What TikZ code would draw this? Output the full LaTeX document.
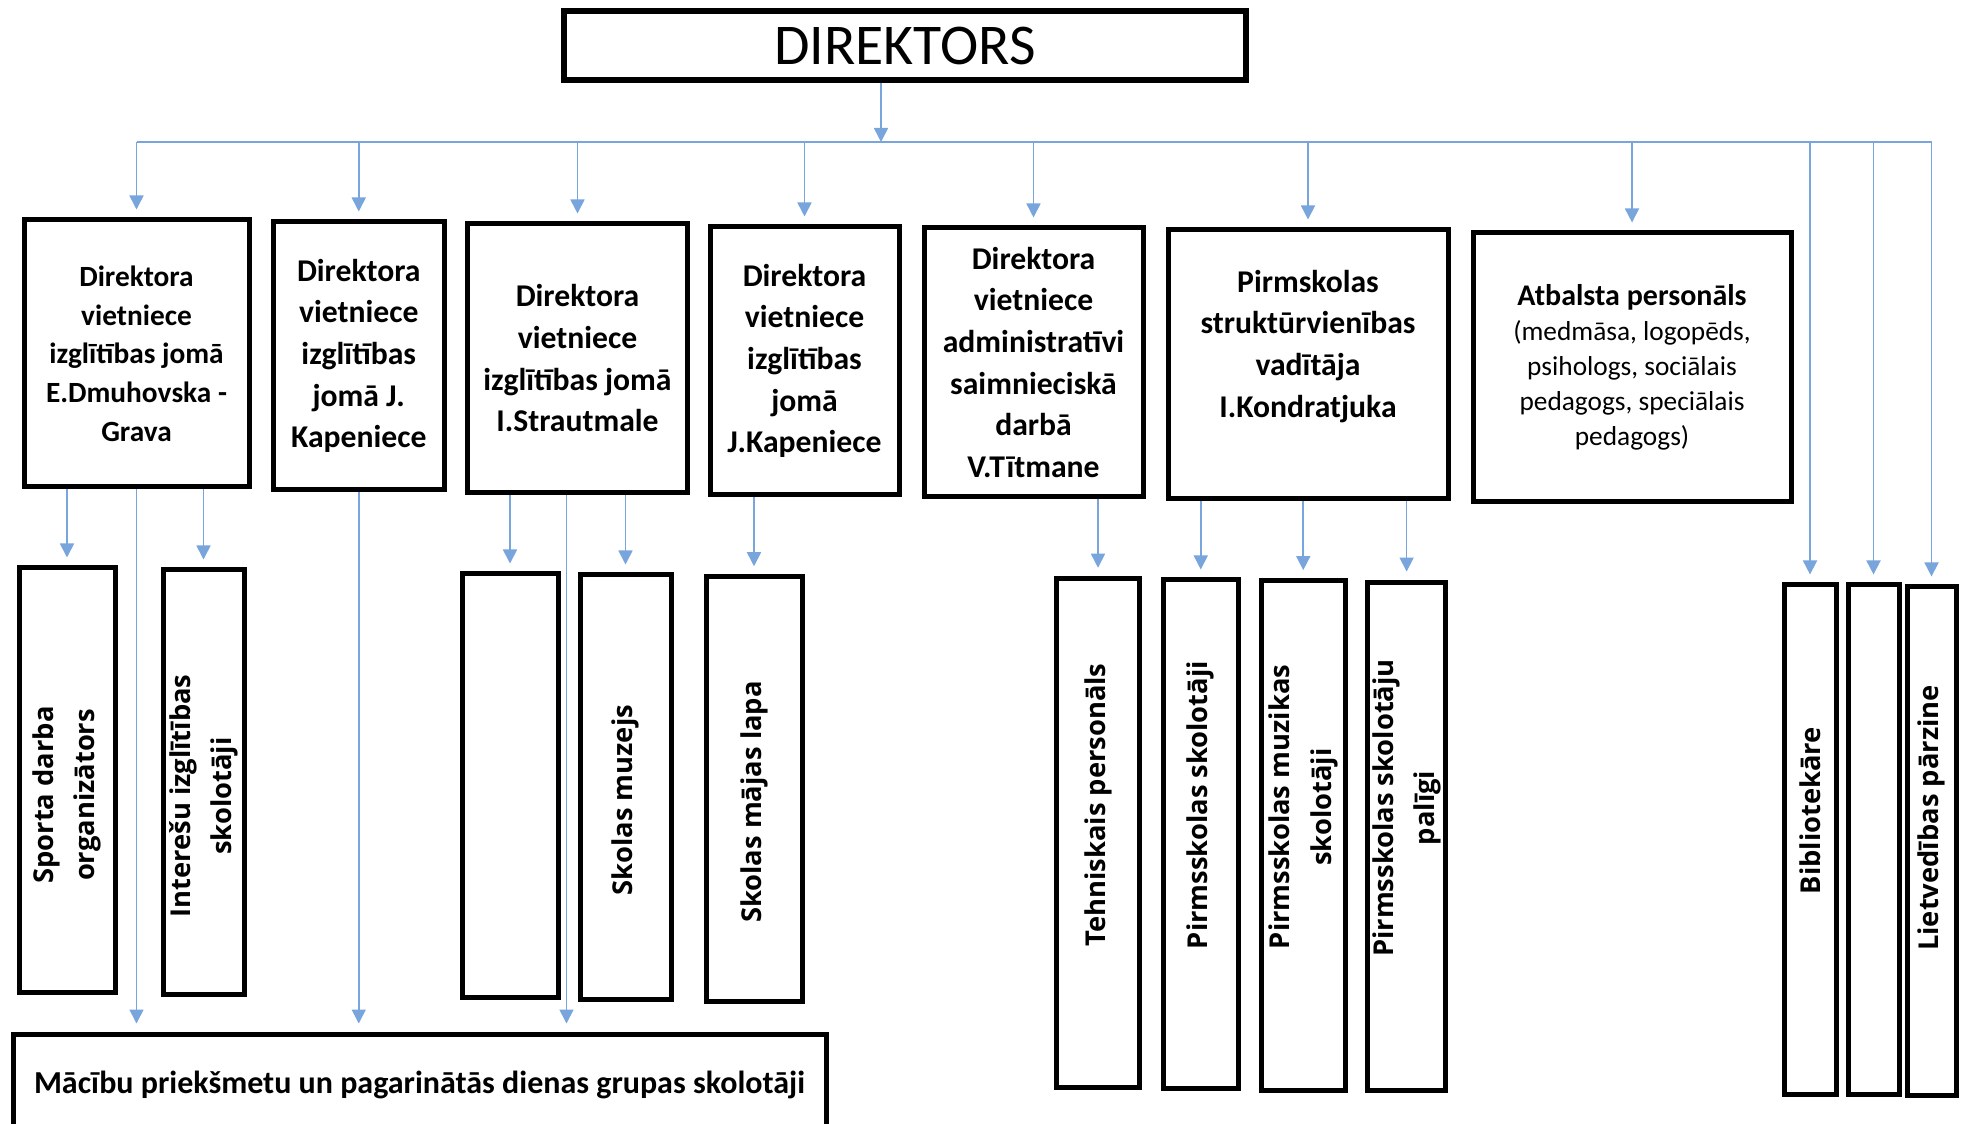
\documentclass[tikz,border=0pt]{standalone}
\usepackage{fontspec}
\setmainfont{Carlito}
\newfontfamily\vertfont{Open Sans}
\usetikzlibrary{arrows.meta}
\definecolor{linkblue}{RGB}{120,165,220}

\begin{document}
\begin{tikzpicture}[x=0.3pt, y=-0.3pt,
          orgbox/.style 2 args={rectangle, draw=black, line width=1.5pt,
            minimum width=#1*0.3pt, minimum height=#2*0.3pt, inner sep=0pt},
          uptext/.style={align=center, font=\fontsize{9.5}{12.5}\selectfont\bfseries},
          vtext/.style={rotate=90, align=center, inner sep=0pt,
            font=\vertfont\bfseries\fontsize{8.2}{12.4}\selectfont},
          bus/.style={draw=linkblue, line width=0.5pt},
          link/.style={bus, -{Triangle[width=4.2pt,length=4.2pt]}, shorten >=2.4pt}]

        \path[use as bounding box, clip] (0,0) rectangle (1964,1124);

        % top
        \node[orgbox={682}{69}, line width=1.7pt, font=\fontsize{17.3}{20}\selectfont] (dir) at (905,45.5) {DIREKTORS};

        % second row
        \node[orgbox={225}{267}, uptext, font=\fontsize{8.8}{11.6}\selectfont\bfseries] (vd1) at (136.5,353.5)
          {Direktora\\vietniece\\izglītības jomā\\E.Dmuhovska -\\Grava};
        \node[orgbox={171.5}{268}, uptext] (vd2) at (358.75,356)
          {Direktora\\vietniece\\izglītības\\jomā J.\\Kapeniece};
        \node[orgbox={220}{269}, uptext] (vd3) at (577.5,358.5)
          {Direktora\\vietniece\\izglītības jomā\\I.Strautmale};
        \node[orgbox={189}{268}, uptext] (vd4) at (804.5,361)
          {Direktora\\vietniece\\izglītības\\jomā\\J.Kapeniece};
        \node[orgbox={219}{269}, uptext] (vda) at (1033.5,362.5)
          {Direktora\\vietniece\\administratīvi\\saimnieciskā\\darbā\\V.Tītmane};
        \node[orgbox={280}{269}, uptext] (pirm) at (1308,364.5)
          {Pirmskolas\\struktūrvienības\\vadītāja\\I.Kondratjuka\\ \mbox{}};
        \node[orgbox={318}{269}, align=center, font=\fontsize{8.2}{10.5}\selectfont] (atb) at (1632,367.5)
          {{\bfseries\fontsize{9}{10.5}\selectfont Atbalsta personāls}\\(medmāsa, logopēds,\\psihologs, sociālais\\pedagogs, speciālais\\pedagogs)};

        % third row
        \node[orgbox={96}{424}]    (sporta) at (67,780) {};
        \node[orgbox={81}{424}]    (intere) at (203.5,782) {};
        \node[orgbox={96}{423}]    (tuk)    at (510,785.5) {};
        \node[orgbox={91}{424}]    (muzejs) at (625.5,787) {};
        \node[orgbox={96}{424.5}]  (majas)  at (754,789) {};
        \node[orgbox={83.5}{509.5}] (tehn)  at (1098,833) {};
        \node[orgbox={75.5}{508.6}] (pss)   at (1200.75,834.3) {};
        \node[orgbox={84.5}{509.4}] (psm)   at (1303.25,835.3) {};
        \node[orgbox={78}{508.7}]   (psp)   at (1406.6,836.4) {};
        \node[orgbox={52}{509}]     (bibl)  at (1810,839.5) {};
        \node[orgbox={51}{509}]     (tuk2)  at (1873.5,839.5) {};
        \node[orgbox={49}{508}]     (lietv) at (1931.5,841) {};

        \node[vtext] (sporta-t) at (67,795)      {Sporta darba\\organizātors};
        \node[vtext] (intere-t) at (203.5,796)   {Interešu izglītības\\skolotāji};
        \node[vtext] (muzejs-t) at (625.5,800)   {Skolas muzejs};
        \node[vtext] (majas-t)  at (754,802)     {Skolas mājas lapa};
        \node[vtext] (tehn-t)   at (1098,805)    {Tehniskais personāls};
        \node[vtext] (pss-t)    at (1200.75,805) {Pirmsskolas skolotāji};
        \node[vtext] (psm-t)    at (1303.25,807) {Pirmsskolas muzikas\\skolotāji};
        \node[vtext] (psp-t)    at (1406.6,808)  {Pirmsskolas skolotāju\\palīgi};
        \node[vtext] (bibl-t)   at (1810,810.6)  {Bibliotekāre};
        \node[vtext] (lietv-t)  at (1931.5,818)  {Lietvedības pārzine};

        % bottom
        \node[orgbox={813}{101}, font=\fontsize{9.6}{12}\selectfont\bfseries] (macibu) at (419.5,1084.5)
          {Mācību priekšmetu un pagarinātās dienas grupas skolotāji};

        % connectors
        \coordinate (busL) at (136.5,142);
        \coordinate (busR) at (1931.5,142);
        \draw[bus] (busL) -- (busR);
        \draw[link, shorten >=0pt] ([xshift=-7.2pt]dir.south) -- ([xshift=-7.2pt]dir.south |- busL);

        \foreach \n in {vd1,vd2,vd3,vd4,vda,pirm,atb,bibl,tuk2,lietv}
          \draw[link] (\n.north |- busL) -- (\n.north);

        \foreach \p/\c in {vd1/sporta,vd1/intere,vd3/tuk,vd3/muzejs,vd4/majas,
                           vda/tehn,pirm/pss,pirm/psm,pirm/psp}
          \draw[link] (\c.north |- \p.south) -- (\c.north);

        \draw[link] (vd1.south) -- (vd1.south |- macibu.north);
        \draw[link] (vd2.south) -- (vd2.south |- macibu.north);
        \draw[link] ([xshift=-3.3pt]vd3.south) -- ([xshift=-3.3pt]vd3.south |- macibu.north);

      \end{tikzpicture}
\end{document}
